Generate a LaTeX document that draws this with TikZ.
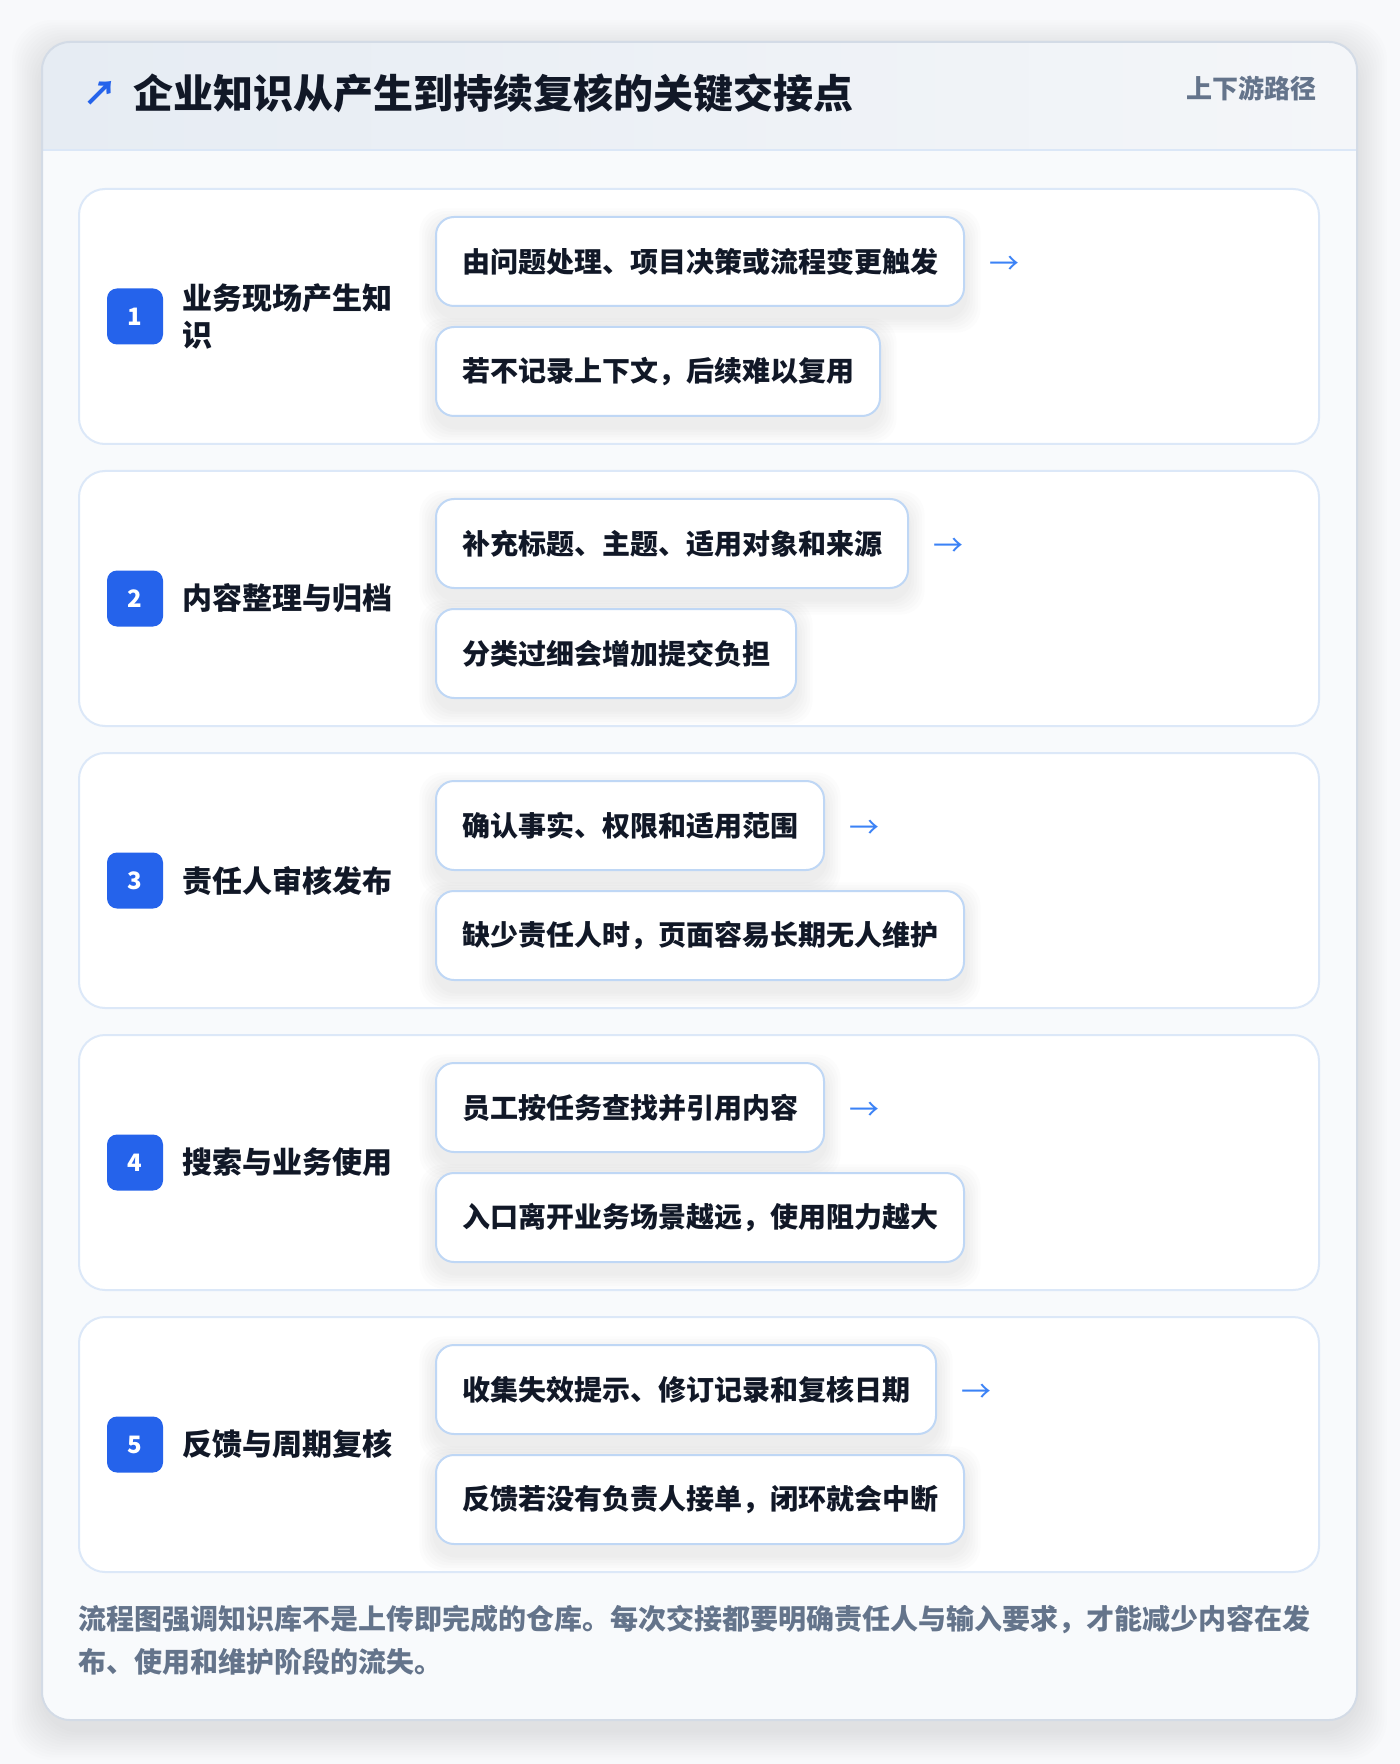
\documentclass[tikz,border=0pt]{standalone}
\usepackage{fontspec}
\setmainfont{Noto Sans CJK SC}
\newfontfamily\medfont{Noto Sans CJK SC Medium}
\usetikzlibrary{positioning}
\pgfdeclarelayer{bg}
\pgfdeclarelayer{shadow}
\pgfsetlayers{bg,shadow,main}
\definecolor{pagebg}{HTML}{F8F9FB}
\definecolor{cardbg}{HTML}{F8FAFC}
\definecolor{cardline}{HTML}{D3DBE6}
\definecolor{hdrL}{HTML}{E6ECF3}
\definecolor{hdrR}{HTML}{F4F6F9}
\definecolor{hdrline}{HTML}{DBE7F7}
\definecolor{rowline}{HTML}{DCE8F8}
\definecolor{boxline}{HTML}{BFD7F5}
\definecolor{ink}{HTML}{111827}
\definecolor{muted}{HTML}{64748B}
\definecolor{badgeblue}{HTML}{2563EB}
\definecolor{arrowblue}{HTML}{3B82F6}
\tikzset{
  rowcard/.style={draw=rowline, line width=1pt, fill=white, rounded corners=13pt,
    minimum width=620pt, minimum height=127.5pt, inner sep=0},
  badge/.style={fill=badgeblue, rounded corners=5pt, minimum size=28pt, inner sep=0,
    text=white, font=\bfseries\fontsize{12pt}{12pt}\selectfont},
  lab/.style={anchor=west, align=left, inner sep=0, text=ink,
    font=\bfseries\fontsize{15pt}{18.5pt}\selectfont},
  itembox/.style={anchor=west, draw=boxline, line width=1pt, fill=white, rounded corners=9pt,
    minimum height=44.5pt, inner xsep=13pt, inner ysep=0, text=ink,
    font=\bfseries\fontsize{14pt}{16pt}\selectfont},
  arrowtxt/.style={inner sep=0, text=arrowblue, font=\fontsize{15pt}{15pt}\selectfont},
  shadowlayer/.style={fill=black, opacity=0.013, rounded corners=12pt}
}
\newcommand{\boxshadow}[1]{%
  \begin{pgfonlayer}{shadow}
  \foreach \i in {1,...,6}{
    \fill[shadowlayer] ([xshift=-1.3*\i pt, yshift=1.3*\i pt-4pt]#1.north west)
      rectangle ([xshift=1.3*\i pt, yshift=-1.3*\i pt-5pt]#1.south east);
  }
  \end{pgfonlayer}}
\begin{document}
\begin{tikzpicture}[x=0.5pt,y=-0.5pt]
\useasboundingbox (0,0) rectangle (1400,1764);
\begin{pgfonlayer}{bg}
\fill[pagebg] (0,0) rectangle (1400,1764);
% outer card shadow
\foreach \i in {1,...,12}{
  \fill[black, opacity=0.007, rounded corners=20pt] (42-2.5*\i,42-2.5*\i+8) rectangle (1357+2.5*\i,1720+2.5*\i+10);
}
\path[fill=cardbg, rounded corners=14pt] (42,42) rectangle (1357,1720);
\begin{scope}
  \clip[rounded corners=14pt] (42,42) rectangle (1357,1720);
  \shade[left color=hdrL, right color=hdrR] (42,42) rectangle (1357,150);
\end{scope}
\draw[hdrline, line width=1pt] (42,150) -- (1357,150);
\draw[cardline, line width=1pt, rounded corners=14pt] (42,42) rectangle (1357,1720);
\end{pgfonlayer}
% header
\node[anchor=west, inner sep=0, text=badgeblue, font=\bfseries\fontsize{17pt}{17pt}\selectfont] (harrow) at (83,93) {↗};
\node[anchor=west, inner sep=0, text=ink, font=\bfseries\fontsize{20pt}{24pt}\selectfont] (title) at (133,93) {企业知识从产生到持续复核的关键交接点};
\node[anchor=east, inner sep=0, text=muted, font=\bfseries\fontsize{13pt}{16pt}\selectfont] (tag) at (1317,88) {上下游路径};
% rows
\foreach \k/\lab/\ta/\tb in {
  1/{业务现场产生知\\识}/{由问题处理、项目决策或流程变更触发}/{若不记录上下文，后续难以复用},
  2/{内容整理与归档}/{补充标题、主题、适用对象和来源}/{分类过细会增加提交负担},
  3/{责任人审核发布}/{确认事实、权限和适用范围}/{缺少责任人时，页面容易长期无人维护},
  4/{搜索与业务使用}/{员工按任务查找并引用内容}/{入口离开业务场景越远，使用阻力越大},
  5/{反馈与周期复核}/{收集失效提示、修订记录和复核日期}/{反馈若没有负责人接单，闭环就会中断}}{
  \pgfmathsetmacro{\c}{316.5+282*(\k-1)}
  \begin{pgfonlayer}{bg}
  \node[rowcard] (r\k) at (699,\c) {};
  \end{pgfonlayer}
  \node[badge] (b\k) at (135,\c) {\k};
  \node[lab] (l\k) at (182,\c) {\lab};
  \node[itembox] (t\k) at (435,\c-55) {\ta};
  \node[itembox] (u\k) at (435,\c+55) {\tb};
  \boxshadow{t\k}
  \boxshadow{u\k}
  \node[arrowtxt, right=12pt of t\k, yshift=-2pt] (a\k) {→};
}
% footer
\node[anchor=west, inner sep=0, align=left, text=muted, font=\bfseries\fontsize{14pt}{21.5pt}\selectfont] (foot) at (78,1640)
  {流程图强调知识库不是上传即完成的仓库。每次交接都要明确责任人与输入要求，才能减少内容在发\\布、使用和维护阶段的流失。};
\end{tikzpicture}
\end{document}
